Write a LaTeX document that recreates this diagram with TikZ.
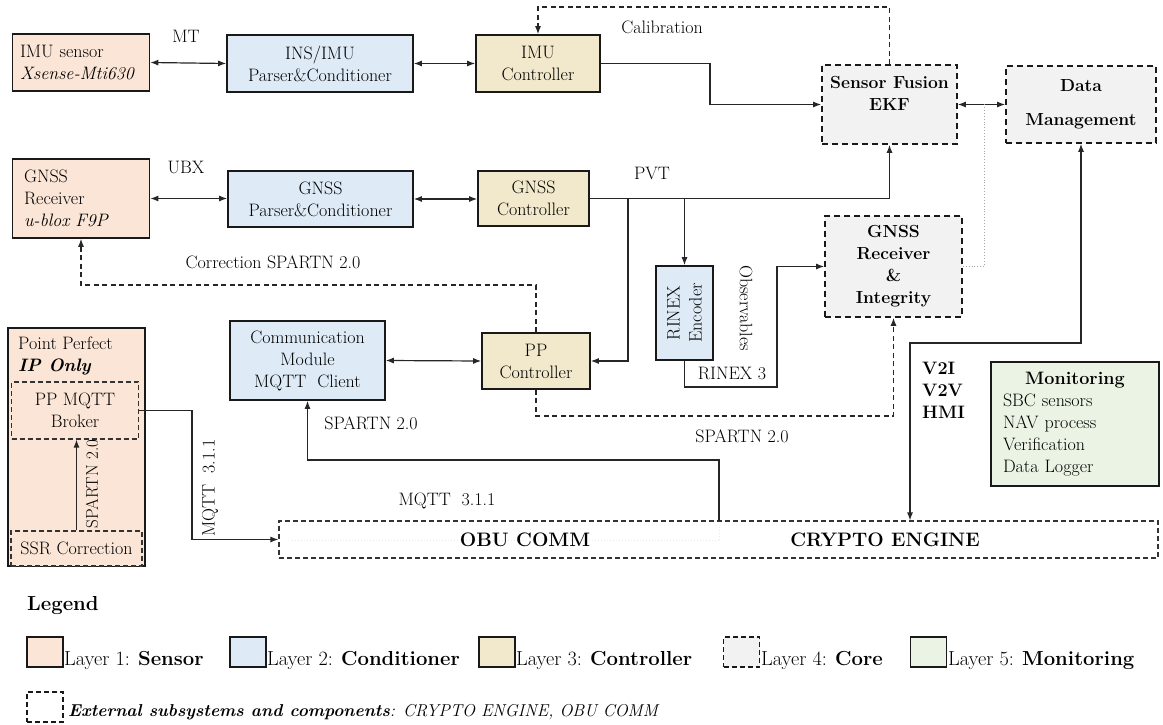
\documentclass[tikz,border=0pt]{standalone}
\usetikzlibrary{arrows.meta,calc}
\definecolor{sensorfill}{HTML}{FBE5D6}
\definecolor{condfill}{HTML}{DEEBF7}
\definecolor{ctrlfill}{HTML}{F2E8CB}
\definecolor{corefill}{HTML}{F2F2F2}
\definecolor{monfill}{HTML}{EBF3E5}
\begin{document}
\begin{tikzpicture}[x=1pt,y=-1pt,
  every node/.style={font=\fontsize{18}{22}\selectfont, inner sep=0pt},
  box/.style={draw=black!90, line width=1.6pt, align=center},
  sensorbox/.style={box, fill=sensorfill},
  condbox/.style={box, fill=condfill},
  ctrlbox/.style={box, fill=ctrlfill},
  corebox/.style={box, fill=corefill, dash pattern=on 6pt off 4pt, font=\fontsize{17.5}{22}\selectfont\bfseries},
  monbox/.style={box, fill=monfill},
  extbox/.style={draw=black!80, line width=1.1pt, dash pattern=on 5pt off 3pt},
  conn/.style={draw=black!85, line width=1.2pt},
  tip/.tip={Latex[length=8pt,width=6pt]},
  arr/.style={conn, -tip},
  darr/.style={conn, tip-tip},
  dconn/.style={conn, dash pattern=on 5pt off 3.5pt},
  ghost/.style={draw=gray!18, line width=1pt, dotted},
  lbl/.style={font=\fontsize{18}{22}\selectfont},
  legtext/.style={font=\fontsize{20.3}{24}\selectfont, anchor=base west}
]
\useasboundingbox (0,0) rectangle (1163,725);

% ---------- row 1 ----------
\node[sensorbox, minimum width=137pt, minimum height=57pt, text width=122pt, align=left, inner xsep=7.5pt] (imus) at (81,62.5) {IMU sensor\\\mbox{\textit{Xsense-Mti630}}};
\node[condbox, minimum width=186pt, minimum height=57pt] (insp) at (320,63.5) {INS/IMU\\Parser\&Conditioner};
\node[ctrlbox, minimum width=124pt, minimum height=57pt] (imuc) at (538,63.5) {IMU\\Controller};

% ---------- row 2 ----------
\node[sensorbox, minimum width=137pt, minimum height=79pt, text width=114pt, align=left, inner xsep=11.5pt] (gnssr) at (81,198.5) {GNSS\\Receiver\\\textit{u-blox F9P}};
\node[condbox, minimum width=185pt, minimum height=56pt] (gnssp) at (320.5,199) {GNSS\\Parser\&Conditioner};
\node[ctrlbox, minimum width=111pt, minimum height=55pt] (gnssc) at (533.5,198.5) {GNSS\\Controller};

% ---------- row 3 ----------
\node[ctrlbox, minimum width=108pt, minimum height=56pt] (ppc) at (536,361) {PP\\Controller};
\node[condbox, minimum width=155pt, minimum height=79pt] (comm) at (307.5,360.5) {Communication\\Module\\MQTT\ \ Client};
\node[condbox, minimum width=57pt, minimum height=94pt] (rinex) at (684.5,313) {};
\node[rotate=90, align=center] (rinext) at (rinex.center) {RINEX\\Encoder};

% ---------- core ----------
\node[corebox, minimum width=135pt, minimum height=79pt] (sf) at (889.5,104.5) {Sensor Fusion\\EKF\\\mbox{}};
\node[corebox, minimum width=150pt, minimum height=77pt] (dm) at (1081,104.5) {Data\\[12pt]Management};
\node[corebox, minimum width=137pt, minimum height=101pt] (gri) at (893.5,266.5) {GNSS\\Receiver\\\&\\Integrity};

% ---------- monitoring ----------
\node[monbox, minimum width=168pt, minimum height=124pt, text width=144pt, inner xsep=12pt, align=left] (mon) at (1075,424) {\makebox[144pt]{\textbf{Monitoring}}\\SBC sensors\\NAV process\\Verification\\Data Logger};

% ---------- point perfect ----------
\node[draw=black!90, line width=1.6pt, fill=sensorfill, minimum width=137pt, minimum height=238pt] (pp) at (76.5,447) {};
\node[anchor=west, align=left] (ppt) at (18,356) {Point Perfect\\\textbf{\textit{IP Only}}};
\node[extbox, fill=sensorfill, minimum width=127pt, minimum height=57pt, align=center] (broker) at (75,410.5) {PP MQTT\\Broker};
\node[extbox, fill=sensorfill, minimum width=131pt, minimum height=35pt] (ssr) at (76.5,548.5) {SSR Correction};

% ---------- OBU / crypto ----------
\node[extbox, minimum width=879pt, minimum height=37pt] (obu) at (718.5,539.5) {};
\coordinate (gh1) at (719,540);
\coordinate (gh2) at (290,540);
\coordinate (gh3) at (719,527);
\draw[ghost] (gh1) -- (gh2);
\draw[ghost] (gh1) -- (gh3);
\node[font=\fontsize{19.5}{24}\selectfont\bfseries] (obut) at (525,540) {OBU COMM};
\node[font=\fontsize{19.5}{24}\selectfont\bfseries] (crypt) at (885,540) {CRYPTO ENGINE};

% ---------- coordinates ----------
\coordinate (b1) at (628,198.5);
\coordinate (b2) at (684.5,198.5);
\coordinate (r1) at (777,387);
\coordinate (c1) at (710,104.5);
\coordinate (d1) at (984,104.5);
\coordinate (v1) at (910,343);
\coordinate (g1) at (893.5,416);
\coordinate (k1) at (81,285);
\coordinate (cal1) at (889.5,7);
\coordinate (cal2) at (538,7);
\coordinate (m1) at (719,521);
\coordinate (m2) at (719,460);
\coordinate (q1) at (192,539.5);

% ---------- connectors ----------
\draw[darr] (imus.east) -- (insp.west);
\draw[darr] (insp.east) -- (imuc.west);
\draw[darr] (gnssr.east) -- (gnssr.east -| gnssp.west);
\draw[darr] (gnssp.east) -- (gnssp.east -| gnssc.west);
\draw[arr] (imuc.east) -| (c1) -- (sf.west);
\draw[dconn, -tip] (sf.north) -- (cal1) -- (cal2) -- (imuc.north);
\draw[darr] (sf.east) -- (dm.west);
\draw[draw=gray!70, line width=0.9pt, dotted] (gri.east) -| (d1);
\draw[arr] (gnssc.east) -| (sf.south);
\draw[arr] (b1) |- (ppc.east);
\draw[arr] (b2) -- (rinex.north);
\draw[arr] (rinex.south) |- (r1) |- (gri.west);
\draw[dconn, -tip] (ppc.north) |- (k1) -- (gnssr.south);
\draw[dconn, -tip] (ppc.south) |- (g1) -- (gri.south);
\draw[darr] (comm.east) -- (ppc.west);
\draw[arr] (m1) -- (m2) -| (comm.south);
\draw[darr] (dm.south) |- (v1) -- (v1 |- obu.north);
\draw[arr] (broker.east) -| (q1) -- (obu.west);
\draw[conn, -tip] (ssr.north) -- (ssr.north |- broker.south);

% ---------- labels ----------
\node[lbl] (lmt) at (186,36) {MT};
\node[lbl] (lubx) at (186,167) {UBX};
\node[lbl] (lcal) at (662,27) {Calibration};
\node[lbl] (lpvt) at (652,173) {PVT};
\node[lbl] (lcorr) at (273,262) {Correction SPARTN 2.0};
\node[lbl, rotate=-90] (lobs) at (746,308) {Observables};
\node[lbl] (lrinex) at (732,373) {RINEX 3};
\node[lbl] (lsp1) at (371,423) {SPARTN 2.0};
\node[lbl] (lsp2) at (742,436) {SPARTN 2.0};
\node[lbl] (lmq1) at (447,501) {MQTT\ \ 3.1.1};
\node[lbl, rotate=90] (lmq2) at (210,488) {MQTT\ \ 3.1.1};
\node[lbl, rotate=90, font=\fontsize{17}{22}\selectfont] (lsp3) at (92,484) {SPARTN 2.0};
\node[lbl, font=\fontsize{18}{22}\selectfont\bfseries, align=left, anchor=west] (lv2) at (922,390) {V2I\\V2V\\HMI};

% ---------- legend ----------
\node[font=\fontsize{20.3}{24}\selectfont\bfseries, anchor=west] (leg) at (27,605) {Legend};
\node[draw=black!90, line width=1.3pt, fill=sensorfill, minimum width=36pt, minimum height=30pt] (sw1) at (45,652) {};
\node[legtext] (lt1) at (64,665) {Layer 1: \textbf{Sensor}};
\node[draw=black!90, line width=1.3pt, fill=condfill, minimum width=36pt, minimum height=30pt] (sw2) at (248,652) {};
\node[legtext] (lt2) at (267,665) {Layer 2: \textbf{Conditioner}};
\node[draw=black!90, line width=1.3pt, fill=ctrlfill, minimum width=36pt, minimum height=30pt] (sw3) at (497,652) {};
\node[legtext] (lt3) at (516,665) {Layer 3: \textbf{Controller}};
\node[draw=black!90, line width=1.3pt, fill=corefill, dash pattern=on 5pt off 3pt, minimum width=36pt, minimum height=30pt] (sw4) at (741.5,652) {};
\node[legtext] (lt4) at (761,665) {Layer 4: \textbf{Core}};
\node[draw=black!90, line width=1.3pt, fill=monfill, minimum width=36pt, minimum height=30pt] (sw5) at (928.5,652) {};
\node[legtext] (lt5) at (948,665) {Layer 5: \textbf{Monitoring}};
\node[draw=black!90, line width=1.1pt, dash pattern=on 5pt off 3pt, minimum width=36pt, minimum height=30pt] (sw6) at (45,707) {};
\node[legtext, font=\fontsize{17.2}{24}\selectfont] (lt6) at (68,716) {\textbf{\textit{External subsystems and components}}\textit{: CRYPTO ENGINE, OBU COMM}};
\end{tikzpicture}
\end{document}
